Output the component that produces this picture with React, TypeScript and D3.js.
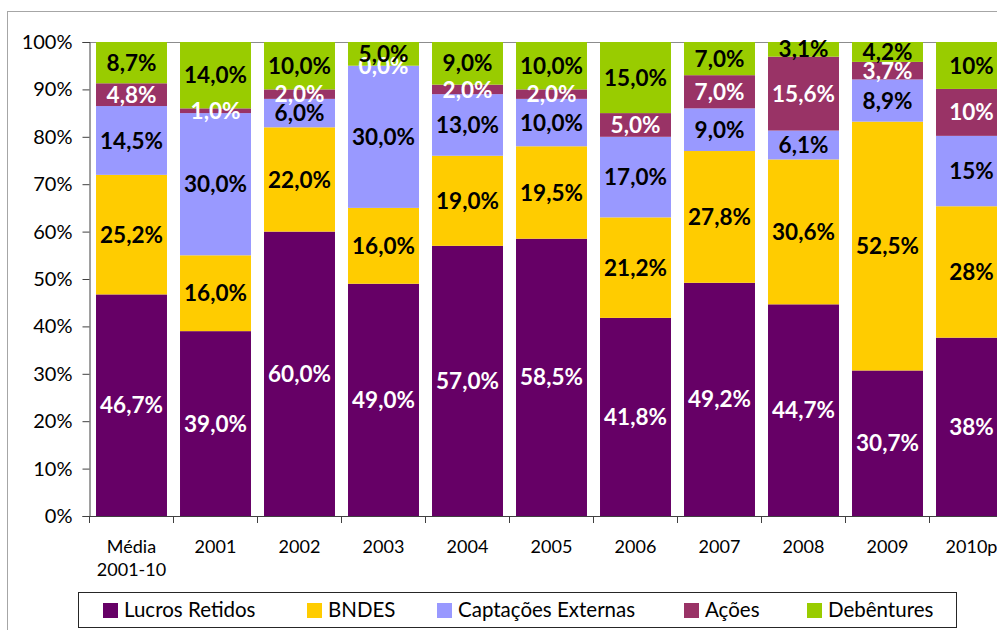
import React, { useEffect, useRef } from "react";
import * as d3 from "d3";

// Categories and series (percent of each year's total)
const categories = ["Média 2001-10", "2001", "2002", "2003", "2004", "2005", "2006", "2007", "2008", "2009", "2010p"];
const seriesNames = ["Lucros Retidos", "BNDES", "Captações Externas", "Ações", "Debêntures"];

const lucrosRetidos = [46.7, 39.0, 60.0, 49.0, 57.0, 58.5, 41.8, 49.2, 44.7, 30.7, 38];
const bndes = [25.2, 16.0, 22.0, 16.0, 19.0, 19.5, 21.2, 27.8, 30.6, 52.5, 28];
const captacoesExternas = [14.5, 30.0, 6.0, 30.0, 13.0, 10.0, 17.0, 9.0, 6.1, 8.9, 15];
const acoes = [4.8, 1.0, 2.0, 0.0, 2.0, 2.0, 5.0, 7.0, 15.6, 3.7, 10];
const debentures = [8.7, 14.0, 10.0, 5.0, 9.0, 10.0, 15.0, 7.0, 3.1, 4.2, 10];

// decimals shown in the data labels, per category
const labelDecimals = [1, 1, 1, 1, 1, 1, 1, 1, 1, 1, 0];

const yTicks = [0, 0.1, 0.2, 0.3, 0.4, 0.5, 0.6, 0.7, 0.8, 0.9, 1];

const colors = ["#660066", "#FFCC00", "#9999FF", "#993366", "#99CC00"];
const labelColors = ["#ffffff", "#000000", "#000000", "#ffffff", "#000000"];

const FONT = "Lato, 'Liberation Sans', sans-serif";

const App = () => {
  const ref = useRef<SVGSVGElement | null>(null);

  useEffect(() => {
    document.body.style.margin = "0";
    drawGraph();
  }, []);

  const drawGraph = () => {
    const width = 997;
    const height = 630;
    const svg = d3.select(ref.current);
    svg.selectAll("*").remove();
    svg.attr("width", width).attr("height", height).style("font-family", FONT);

    // outer chart border
    svg.append("rect")
      .attr("x", 7.5).attr("y", 11.5)
      .attr("width", 1200).attr("height", 800)
      .attr("fill", "#fff").attr("stroke", "#a6a6a6");

    const allSeries = [lucrosRetidos, bndes, captacoesExternas, acoes, debentures];
    const rows = categories.map((c, i) => {
      const r: any = { category: c, idx: i };
      seriesNames.forEach((s, j) => { r[s] = allSeries[j][i]; });
      return r;
    });

    const stacked = d3.stack<any>()
      .keys(seriesNames)
      .offset(d3.stackOffsetExpand)(rows);

    const left = 89.5;
    const step = 84;
    const x = d3.scaleBand()
      .domain(categories)
      .range([left, left + step * categories.length])
      .paddingInner(0.155)
      .paddingOuter(0.0775);

    const y = d3.scaleLinear().domain([0, 1]).range([516, 42]);

    // top line of plot
    svg.append("line")
      .attr("x1", left).attr("x2", width)
      .attr("y1", y(1) + 0.5).attr("y2", y(1) + 0.5)
      .attr("stroke", "#8c8c8c");

    // bars
    const groups = svg.append("g")
      .selectAll("g")
      .data(stacked)
      .join("g")
      .attr("fill", (_d, i) => colors[i]);

    groups.selectAll("rect")
      .data(d => d)
      .join("rect")
      .attr("x", d => x(d.data.category)!)
      .attr("width", x.bandwidth())
      .attr("y", d => y(d[1]))
      .attr("height", d => y(d[0]) - y(d[1]));

    // axes
    const yAxis = svg.append("g")
      .attr("transform", `translate(${left},0)`)
      .call(d3.axisLeft(y).tickValues(yTicks).tickFormat(d3.format(".0%")).tickSize(7).tickPadding(10));
    yAxis.select(".domain").attr("stroke", "#404040");
    yAxis.selectAll(".tick line").attr("stroke", "#404040");
    yAxis.selectAll("text")
      .attr("font-size", "20px")
      .attr("font-family", FONT)
      .attr("fill", "#000");

    const xAxis = svg.append("g");
    xAxis.append("line")
      .attr("x1", left).attr("x2", width)
      .attr("y1", y(0) + 0.5).attr("y2", y(0) + 0.5)
      .attr("stroke", "#404040");
    xAxis.selectAll("line.tick")
      .data(d3.range(categories.length + 1))
      .join("line")
      .attr("class", "tick")
      .attr("x1", i => left + i * x.step())
      .attr("x2", i => left + i * x.step())
      .attr("y1", y(0))
      .attr("y2", y(0) + 7)
      .attr("stroke", "#404040");

    const catLabels = xAxis.selectAll("text")
      .data(categories)
      .join("text")
      .attr("x", c => x(c)! + x.bandwidth() / 2)
      .attr("y", 553)
      .attr("text-anchor", "middle")
      .attr("font-size", "18px")
      .attr("fill", "#000");
    catLabels.each(function (c) {
      const t = d3.select(this);
      const parts = c.split(" ");
      parts.forEach((p, k) => {
        t.append("tspan")
          .attr("x", x(c)! + x.bandwidth() / 2)
          .attr("dy", k === 0 ? 0 : 23)
          .text(p);
      });
    });

    // data labels (decimal comma)
    const pt = d3.formatLocale({ decimal: ",", thousands: ".", grouping: [3], currency: ["R$", ""] });
    groups.each(function (series, si) {
      d3.select(this.parentNode as any).append("g")
        .selectAll("text")
        .data(series)
        .join("text")
        .attr("x", d => x(d.data.category)! + x.bandwidth() / 2)
        .attr("y", d => (y(d[0]) + y(d[1])) / 2)
        .attr("dy", "0.36em")
        .attr("text-anchor", "middle")
        .attr("font-size", "22.5px")
        .attr("font-weight", "bold")
        .attr("fill", labelColors[si])
        .text(d => pt.format(`.${labelDecimals[d.data.idx]}f`)(d.data[seriesNames[si]]) + "%");
    });

    // legend
    const legend = svg.append("g");
    legend.append("rect")
      .attr("x", 78.5).attr("y", 592.5)
      .attr("width", 878).attr("height", 35)
      .attr("fill", "#fff").attr("stroke", "#262626");
    const legendX = [103, 307, 437, 684, 807];
    seriesNames.forEach((s, i) => {
      legend.append("rect")
        .attr("x", legendX[i]).attr("y", 603)
        .attr("width", 15).attr("height", 15)
        .attr("fill", colors[i]);
      legend.append("text")
        .attr("x", legendX[i] + 21).attr("y", 617)
        .attr("font-size", "20.5px")
        .attr("fill", "#000")
        .text(s);
    });
  };

  return <svg ref={ref} style={{ display: "block" }} />;
};

export default App;
